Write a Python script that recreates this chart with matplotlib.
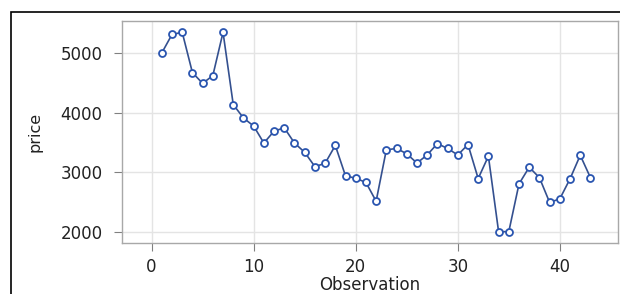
import numpy as np
import matplotlib
matplotlib.use('Agg')
import matplotlib.pyplot as plt
from matplotlib.patches import Rectangle

# observation number and price
observation = list(range(1, 44))
price = [5000, 5310, 5345, 4670, 4490, 4620, 5345, 4135, 3910, 3775,
         3490, 3690, 3745, 3490, 3335, 3095, 3150, 3450, 2940, 2900,
         2830, 2515, 3375, 3400, 3310, 3155, 3290, 3480, 3400, 3290,
         3465, 2895, 3270, 2005, 2005, 2805, 3085, 2910, 2495, 2555,
         2890, 3285, 2910]

xticks = [0, 10, 20, 30, 40]
yticks = [2000, 3000, 4000, 5000]

line_color = '#34508f'
marker_color = '#2a55b0'
grid_color = '#e4e4e4'
spine_color = '#a8a8a8'

fig = plt.figure(figsize=(6.2, 2.94), dpi=100)

# outer border of the graph frame
fig.patches.append(Rectangle((11 / 620, -0.05), 1.1, 1 - 12 / 294 + 0.05,
                             transform=fig.transFigure, fill=False,
                             edgecolor='black', lw=1.2, clip_on=False))

ax = fig.add_axes([122 / 620, 1 - 243 / 294, 496 / 620, 222 / 294])

ax.plot(observation, price, color=line_color, lw=1.2,
        marker='o', markersize=5, markerfacecolor='white',
        markeredgecolor=marker_color, markeredgewidth=1.3, zorder=3)

ax.set_xlim(-2.9, 45.7)
ax.set_ylim(1815, 5535)
ax.set_xticks(xticks)
ax.set_yticks(yticks)
ax.grid(True, color=grid_color, lw=1.0)
ax.set_axisbelow(True)

for s in ax.spines.values():
    s.set_color(spine_color)
    s.set_linewidth(1.0)

ax.tick_params(axis='both', colors='#808080', length=6, width=0.8,
               labelcolor='#222222', labelsize=12)
ax.tick_params(axis='y', pad=8)
ax.tick_params(axis='x', pad=5)

ax.set_xlabel('Observation', fontsize=12, color='#222222', labelpad=0)
ax.set_ylabel('price', fontsize=11.5, color='#222222', labelpad=13)

fig.savefig('out.png', dpi=100)
